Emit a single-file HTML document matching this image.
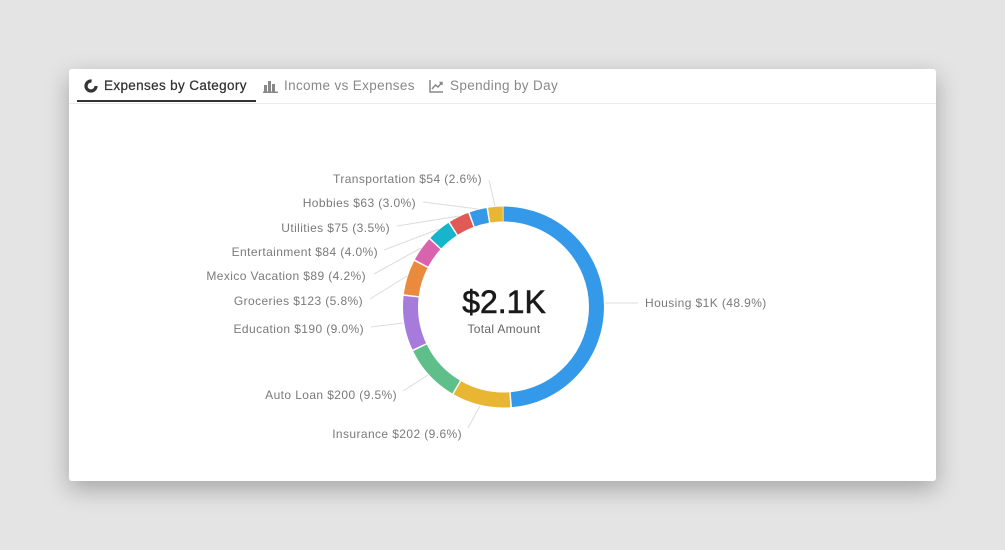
<!DOCTYPE html>
<html><head><meta charset="utf-8"><style>
html,body{margin:0;padding:0;width:1005px;height:550px;background:#e4e4e4;overflow:hidden;font-family:"Liberation Sans",sans-serif}
.card{position:absolute;left:69px;top:69px;width:867px;height:412px;background:#fff;border-radius:3px;box-shadow:0 8px 24px rgba(0,0,0,.28)}
.tabs{position:absolute;left:0;top:0;width:867px;height:34px;border-bottom:1px solid #ececec}
.tab{position:absolute;top:9px;font-size:13.5px;color:#888;display:flex;align-items:center;gap:6px;letter-spacing:0.35px}
.tab.a{color:#333;-webkit-text-stroke:0.25px #333}
.ul{position:absolute;left:8px;top:31px;width:179px;height:2px;background:#333}
svg text{font-family:"Liberation Sans",sans-serif}
</style></head><body>
<div class="card">
 <div class="tabs">
  <div class="tab a" style="left:15px"><svg width="14" height="14" viewBox="0 0 14 14"><circle cx="7" cy="7" r="5" fill="none" stroke="#333" stroke-width="3.2" stroke-dasharray="24 8"/></svg>Expenses by Category</div>
  <div class="tab" style="left:194px"><svg width="15" height="14" viewBox="0 0 15 14"><rect x="1" y="6" width="3" height="7" fill="#888"/><rect x="5" y="2" width="3" height="11" fill="#888"/><rect x="9" y="5" width="3" height="8" fill="#888"/><rect x="0" y="12.5" width="15" height="1.5" fill="#888"/></svg>Income vs Expenses</div>
  <div class="tab" style="left:360px"><svg width="15" height="14" viewBox="0 0 15 14"><path d="M1 1V13H14" fill="none" stroke="#888" stroke-width="1.5"/><path d="M3 10L6.5 6L9 8L13 3.5M10.5 3.5H13V6" fill="none" stroke="#888" stroke-width="1.5"/></svg>Spending by Day</div>
  <div class="ul"></div>
 </div>
</div>
<svg width="1005" height="550" style="position:absolute;left:0;top:0">
 <g transform="rotate(-90 503.5 307)" fill="none" stroke-width="15">
  <circle cx="503.5" cy="307" r="93" stroke="#3399e8" stroke-dasharray="284.2 600" stroke-dashoffset="0"/>
  <circle cx="503.5" cy="307" r="93" stroke="#e8b632" stroke-dasharray="54.6 600" stroke-dashoffset="-285.7"/>
  <circle cx="503.5" cy="307" r="93" stroke="#5fbf8a" stroke-dasharray="54 600" stroke-dashoffset="-341.8"/>
  <circle cx="503.5" cy="307" r="93" stroke="#a77bdb" stroke-dasharray="51.1 600" stroke-dashoffset="-397.3"/>
  <circle cx="503.5" cy="307" r="93" stroke="#ea8a3c" stroke-dasharray="32.4 600" stroke-dashoffset="-449.9"/>
  <circle cx="503.5" cy="307" r="93" stroke="#d964ad" stroke-dasharray="23 600" stroke-dashoffset="-483.8"/>
  <circle cx="503.5" cy="307" r="93" stroke="#17b5cc" stroke-dasharray="21.9 600" stroke-dashoffset="-508.3"/>
  <circle cx="503.5" cy="307" r="93" stroke="#e05a55" stroke-dasharray="19 600" stroke-dashoffset="-531.7"/>
  <circle cx="503.5" cy="307" r="93" stroke="#3399e8" stroke-dasharray="16 600" stroke-dashoffset="-552.2"/>
  <circle cx="503.5" cy="307" r="93" stroke="#e8b632" stroke-dasharray="13.7 600" stroke-dashoffset="-569.7"/>
 </g>
 <g stroke="#dcdcdc" stroke-width="1" fill="none">
  <line x1="605" y1="303" x2="638" y2="303"/>
  <line x1="480" y1="406" x2="468" y2="428"/>
  <line x1="428" y1="375" x2="403" y2="391"/>
  <line x1="403" y1="323" x2="371" y2="327"/>
  <line x1="407" y1="276" x2="370" y2="299"/>
  <line x1="421" y1="248" x2="374" y2="274"/>
  <line x1="439" y1="229" x2="384" y2="250"/>
  <line x1="459" y1="216" x2="397" y2="226"/>
  <line x1="478" y1="209" x2="423" y2="202"/>
  <line x1="495" y1="206" x2="489" y2="180"/>
 </g>
 <g font-size="12" fill="#7a7a7a" text-anchor="end" letter-spacing="0.4">
  <text x="482" y="183">Transportation $54 (2.6%)</text>
  <text x="416" y="207">Hobbies $63 (3.0%)</text>
  <text x="390" y="232">Utilities $75 (3.5%)</text>
  <text x="378" y="256">Entertainment $84 (4.0%)</text>
  <text x="366" y="280">Mexico Vacation $89 (4.2%)</text>
  <text x="363" y="305">Groceries $123 (5.8%)</text>
  <text x="364" y="333">Education $190 (9.0%)</text>
  <text x="397" y="399">Auto Loan $200 (9.5%)</text>
  <text x="462" y="438">Insurance $202 (9.6%)</text>
  <text x="645" y="307" text-anchor="start">Housing $1K (48.9%)</text>
 </g>
 <text x="504" y="313" font-size="32" fill="#1a1a1a" text-anchor="middle" stroke="#1a1a1a" stroke-width="0.6">$2.1K</text>
 <text x="504" y="333" font-size="12" fill="#666" text-anchor="middle" letter-spacing="0.3">Total Amount</text>
</svg>
</body></html>
